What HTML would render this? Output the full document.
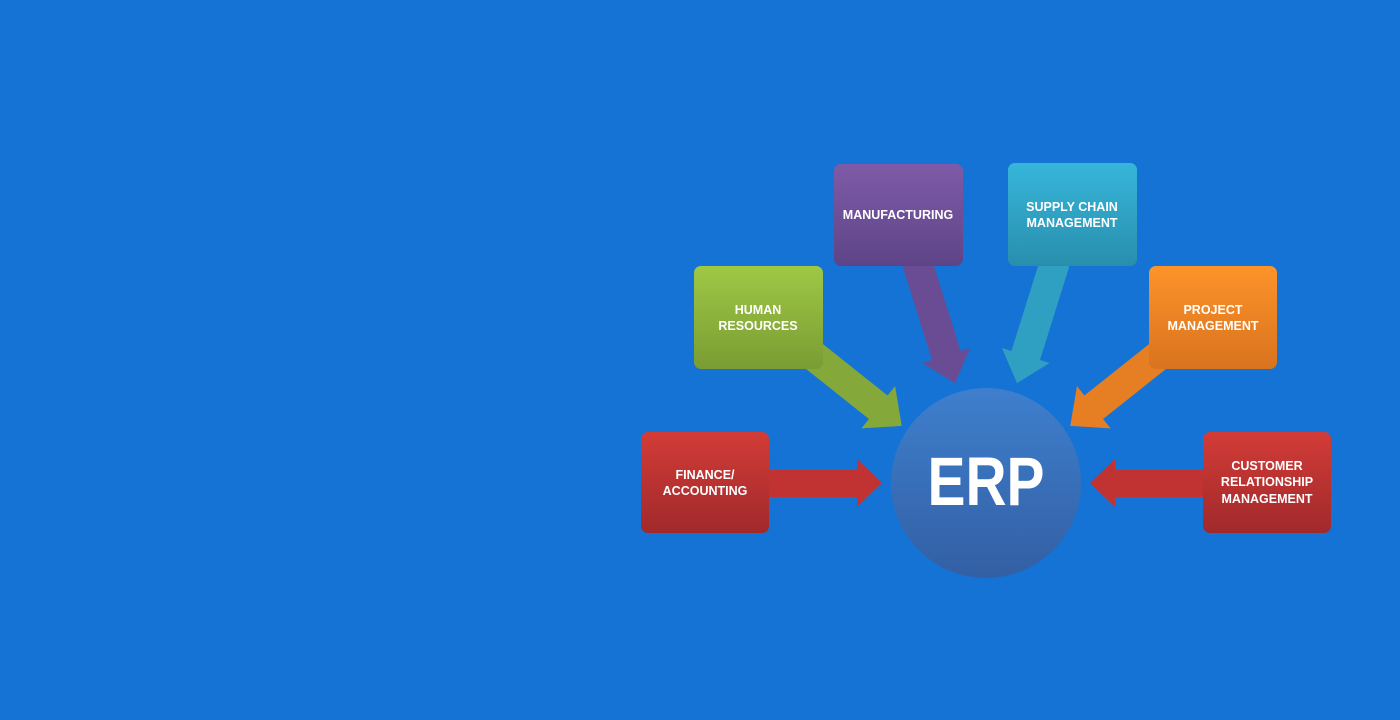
<!DOCTYPE html>
<html><head><meta charset="utf-8"><style>
html,body{margin:0;padding:0;background:#1473d4;width:1400px;height:720px;overflow:hidden}
svg{display:block}
.t{font-family:"Liberation Sans Narrow","Liberation Sans",sans-serif;font-weight:bold;font-size:12.5px;fill:#fff;text-anchor:middle}
</style></head><body>
<svg width="1400" height="720" viewBox="0 0 1400 720" xmlns="http://www.w3.org/2000/svg">
<defs>
<linearGradient id="red" x1="0" y1="0" x2="0" y2="1"><stop offset="0" stop-color="#d23c37"/><stop offset="1" stop-color="#a1292b"/></linearGradient>
<linearGradient id="grn" x1="0" y1="0" x2="0" y2="1"><stop offset="0" stop-color="#9fc845"/><stop offset="1" stop-color="#7a9c33"/></linearGradient>
<linearGradient id="pur" x1="0" y1="0" x2="0" y2="1"><stop offset="0" stop-color="#7e5ba8"/><stop offset="1" stop-color="#5e4487"/></linearGradient>
<linearGradient id="cyn" x1="0" y1="0" x2="0" y2="1"><stop offset="0" stop-color="#36b6da"/><stop offset="1" stop-color="#298ead"/></linearGradient>
<linearGradient id="org" x1="0" y1="0" x2="0" y2="1"><stop offset="0" stop-color="#fe9329"/><stop offset="1" stop-color="#d8731f"/></linearGradient>
<linearGradient id="cir" x1="0" y1="0" x2="0" y2="1"><stop offset="0" stop-color="#3e7fcd"/><stop offset="1" stop-color="#335fa4"/></linearGradient>
</defs>
<g transform="translate(800,345) rotate(38.5)"><polygon points="0,-15 100,-15 100,-27 130,0 100,27 100,15 0,15" fill="#84a83a"/></g>
<g transform="translate(917,262) rotate(72.6)"><polygon points="0,-15 98,-15 98,-25 127,0 98,25 98,15 0,15" fill="#6a4c94"/></g>
<g transform="translate(1055,262) rotate(107.4)"><polygon points="0,-15 98,-15 98,-25 127,0 98,25 98,15 0,15" fill="#2f9fc2"/></g>
<g transform="translate(1172,345) rotate(141.5)"><polygon points="0,-15 100,-15 100,-27 130,0 100,27 100,15 0,15" fill="#e67f24"/></g>
<polygon points="765,470 857,470 857,459 882,483 857,507 857,497 765,497" fill="#c13333"/>
<polygon points="1207,470 1115,470 1115,459 1090,483 1115,507 1115,497 1207,497" fill="#c13333"/>
<ellipse cx="986" cy="483" rx="95" ry="95" fill="url(#cir)"/>
<text x="986" y="505" textLength="117" lengthAdjust="spacingAndGlyphs" style="font-family:'Liberation Sans',sans-serif;font-weight:bold;font-size:69px;fill:#fff;text-anchor:middle">ERP</text>
<rect x="641" y="432" width="128" height="101" rx="7" fill="url(#red)"/>
<text class="t" x="705" y="479">FINANCE/</text><text class="t" x="705" y="495">ACCOUNTING</text>
<rect x="694" y="266" width="129" height="103" rx="7" fill="url(#grn)"/>
<text class="t" x="758" y="314">HUMAN</text><text class="t" x="758" y="330">RESOURCES</text>
<rect x="834" y="164" width="129" height="102" rx="7" fill="url(#pur)"/>
<text class="t" x="898" y="219">MANUFACTURING</text>
<rect x="1008" y="163" width="129" height="103" rx="7" fill="url(#cyn)"/>
<text class="t" x="1072" y="211">SUPPLY CHAIN</text><text class="t" x="1072" y="227">MANAGEMENT</text>
<rect x="1149" y="266" width="128" height="103" rx="7" fill="url(#org)"/>
<text class="t" x="1213" y="314">PROJECT</text><text class="t" x="1213" y="330">MANAGEMENT</text>
<rect x="1203" y="432" width="128" height="101" rx="7" fill="url(#red)"/>
<text class="t" x="1267" y="470">CUSTOMER</text><text class="t" x="1267" y="486">RELATIONSHIP</text><text class="t" x="1267" y="503">MANAGEMENT</text>
</svg>
</body></html>
